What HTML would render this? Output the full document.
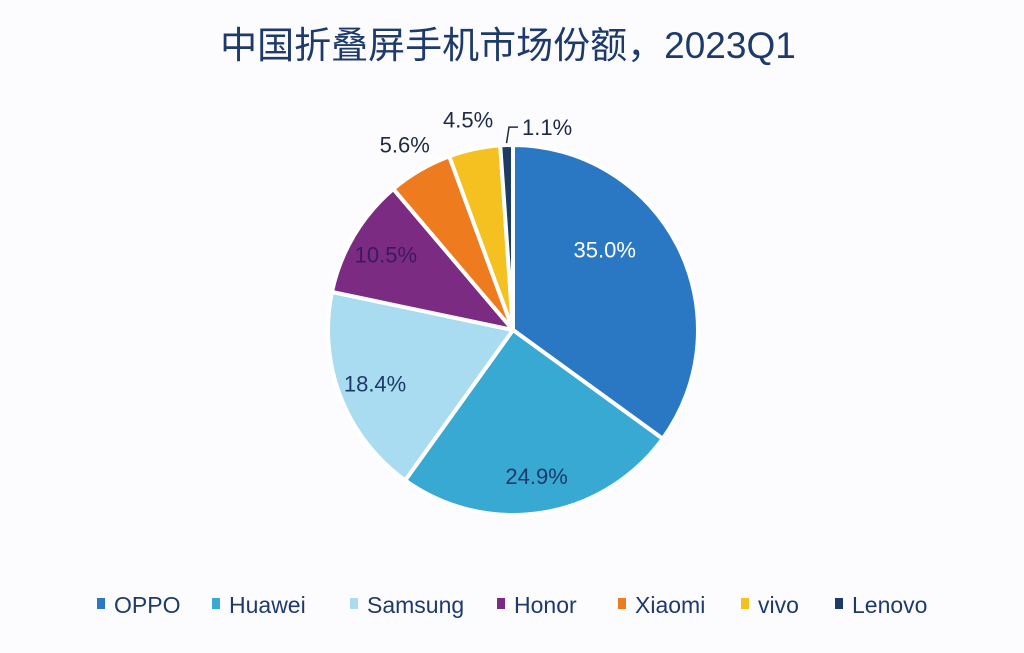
<!DOCTYPE html>
<html><head><meta charset="utf-8">
<style>
html,body{margin:0;padding:0;background:#fcfcfe;}
body{width:1024px;height:648px;overflow:hidden;font-family:"Liberation Sans","Noto Sans CJK SC",sans-serif;}
</style></head>
<body>
<svg id="chart" width="1024" height="648" viewBox="0 0 1024 648" xmlns="http://www.w3.org/2000/svg">
<text x="508" y="58" text-anchor="middle" font-size="37" fill="#1e3a6b" font-family="Liberation Sans, Noto Sans CJK SC, sans-serif">中国折叠屏手机市场份额，2023Q1</text>
<g id="slices"></g>
<g id="labels"></g>
<g id="legend"></g>
</svg>
<script>
const categories = ["OPPO","Huawei","Samsung","Honor","Xiaomi","vivo","Lenovo"];
const shares = [35.0,24.9,18.4,10.5,5.6,4.5,1.1];
const valueLabels = ["35.0%","24.9%","18.4%","10.5%","5.6%","4.5%","1.1%"];
const colors = ["#2a78c4","#37a9d2","#a9dcf0","#7c2b82","#ee7c1e","#f4c120","#1c3c63"];
const labelColors = ["#ffffff","#1e3a6b","#1e3a6b","#3a1a5e","#1e2a44","#1e2a44","#1e2a44"];

const NS="http://www.w3.org/2000/svg";
const cx=513, cy=330, R=185;
const total=shares.reduce((a,b)=>a+b,0);
const pt=(ang,r)=>[cx+r*Math.sin(ang), cy-r*Math.cos(ang)];
const sg=document.getElementById('slices'), lg=document.getElementById('labels'), leg=document.getElementById('legend');
let acc=0;
shares.forEach((v,i)=>{
  const a0=acc/total*2*Math.PI; acc+=v; const a1=acc/total*2*Math.PI;
  const p0=pt(a0,R), p1=pt(a1,R);
  const large=(a1-a0)>Math.PI?1:0;
  const path=document.createElementNS(NS,'path');
  path.setAttribute('d',`M${cx},${cy} L${p0[0]},${p0[1]} A${R},${R} 0 ${large} 1 ${p1[0]},${p1[1]} Z`);
  path.setAttribute('fill',colors[i]);
  path.setAttribute('stroke','#ffffff');
  path.setAttribute('stroke-width','4');
  path.setAttribute('stroke-linejoin','round');
  
  
  sg.appendChild(path);
  const mid=(a0+a1)/2;
  const frac=v/total;
  let lp, anchor='middle';
  const t=document.createElementNS(NS,'text');
  if(frac>0.08){ lp=pt(mid, R*0.8); if(i===0){lp=pt(mid-0.25,R*0.66);} }
  else if(frac>0.02){ lp=pt(mid,R+30); }
  else {
    const e=pt(mid,R+2), b=pt(mid,R+18);
    const line=document.createElementNS(NS,'path');
    line.setAttribute('d',`M${e[0]},${e[1]} L${b[0]+3},${b[1]} L${b[0]+12},${b[1]}`);
    line.setAttribute('stroke','#1e2a44');line.setAttribute('fill','none');line.setAttribute('stroke-width','1.5');
    
    
    lg.appendChild(line);
    lp=[b[0]+16,b[1]]; anchor='start';
  }
  t.setAttribute('x',lp[0]); t.setAttribute('y',lp[1]+8);
  t.setAttribute('text-anchor',anchor);
  t.setAttribute('font-size','22');
  t.setAttribute('fill',labelColors[i]);
  t.textContent=valueLabels[i];
  
  
  lg.appendChild(t);
});
// legend
const legX=[97,212,350,497,618,741,835];
categories.forEach((c,i)=>{
  const g=document.createElementNS(NS,'g');
  
  
  const r=document.createElementNS(NS,'rect');
  r.setAttribute('x',legX[i]);r.setAttribute('y',598);r.setAttribute('width',8);r.setAttribute('height',11);
  r.setAttribute('fill',colors[i]);
  g.appendChild(r);
  const t=document.createElementNS(NS,'text');
  t.setAttribute('x',legX[i]+17);t.setAttribute('y',613);
  t.setAttribute('font-size','23');t.setAttribute('fill','#1e3a6b');
  t.textContent=c;
  g.appendChild(t);
  leg.appendChild(g);
});
</script>
</body></html>
